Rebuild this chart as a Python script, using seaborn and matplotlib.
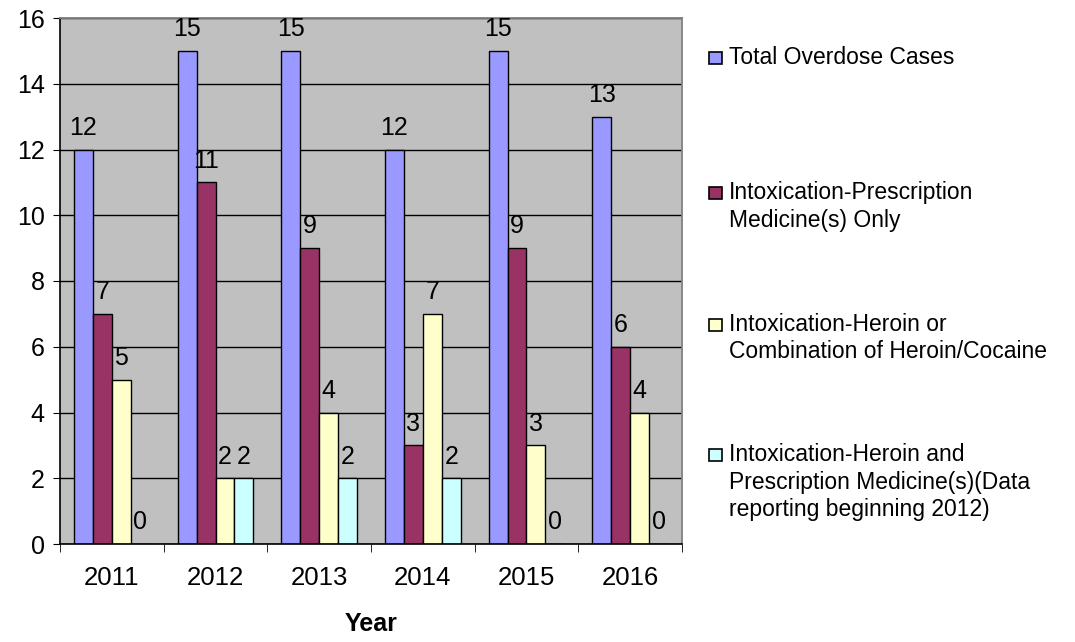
import pandas as pd
import numpy as np
import seaborn as sns
import matplotlib.pyplot as plt
from matplotlib.patches import Rectangle

years = ['2011', '2012', '2013', '2014', '2015', '2016']
series = ['Total Overdose Cases',
          'Intoxication-Prescription\nMedicine(s) Only',
          'Intoxication-Heroin or\nCombination of Heroin/Cocaine',
          'Intoxication-Heroin and\nPrescription Medicine(s)(Data\nreporting beginning 2012)']
total = [12, 15, 15, 12, 15, 13]
prescription = [7, 11, 9, 3, 9, 6]
heroin = [5, 2, 4, 7, 3, 4]
heroin_presc = [0, 2, 2, 2, 0, 0]
colors = ['#9999FF', '#993366', '#FFFFCC', '#CCFFFF']

rows = []
for s, vals in zip(series, [total, prescription, heroin, heroin_presc]):
    for y, v in zip(years, vals):
        rows.append({'Year': y, 'Series': s, 'Cases': v})
df = pd.DataFrame(rows)

sns.set_style('white')
plt.rcParams['font.family'] = ['Liberation Sans', 'DejaVu Sans']
plt.rcParams['text.color'] = 'black'
plt.rcParams['axes.labelcolor'] = 'black'
plt.rcParams['xtick.color'] = 'black'
plt.rcParams['ytick.color'] = 'black'

W, H = 1075, 642
fig = plt.figure(figsize=(W / 100, H / 100), dpi=100)
ax = fig.add_axes([60 / W, 1 - 544 / H, 622 / W, 526 / H])
ax.set_facecolor('#C0C0C0')

sns.barplot(data=df, x='Year', y='Cases', hue='Series', palette=colors,
            saturation=1, width=0.73, edgecolor='black', linewidth=1,
            ax=ax, legend=False)

for c in ax.containers:
    ax.bar_label(c, fontsize=18, padding=7, color='black')

ax.set_ylim(0, 16)
ax.set_xlim(-0.5, 5.5)
ax.set_yticks(range(0, 17, 2))
ax.yaxis.grid(True, color='black', linewidth=1)
ax.set_axisbelow(True)
ax.tick_params(axis='y', labelsize=18, length=5, direction='out', left=True,
               color='black', pad=6)
ax.tick_params(axis='x', which='major', labelsize=18.5, length=0, pad=16)
ax.set_xticks(np.arange(-0.5, 6, 1), minor=True)
ax.tick_params(axis='x', which='minor', length=6, direction='out', bottom=True, color='black')
ax.set_ylabel('')
ax.set_xlabel('Year', fontsize=18, fontweight='bold', labelpad=16)
for side in ['left', 'bottom']:
    ax.spines[side].set_color('black')
    ax.spines[side].set_linewidth(1.2)
for side in ['top', 'right']:
    ax.spines[side].set_color('#808080')
    ax.spines[side].set_linewidth(1.3)

# legend, Excel style: marker next to the first line of each entry
legend_y = [58, 193, 325, 455]
for col, lab, yc in zip(colors, series, legend_y):
    fig.add_artist(Rectangle((709 / W, 1 - (yc + 6) / H), 13 / W, 12 / H,
                             transform=fig.transFigure, facecolor=col,
                             edgecolor='black', linewidth=1.2))
    fig.text(729 / W, 1 - (yc - 12) / H, lab, fontsize=16.5, va='top', ha='left',
             linespacing=1.25)

fig.savefig('out.png', dpi=100)
